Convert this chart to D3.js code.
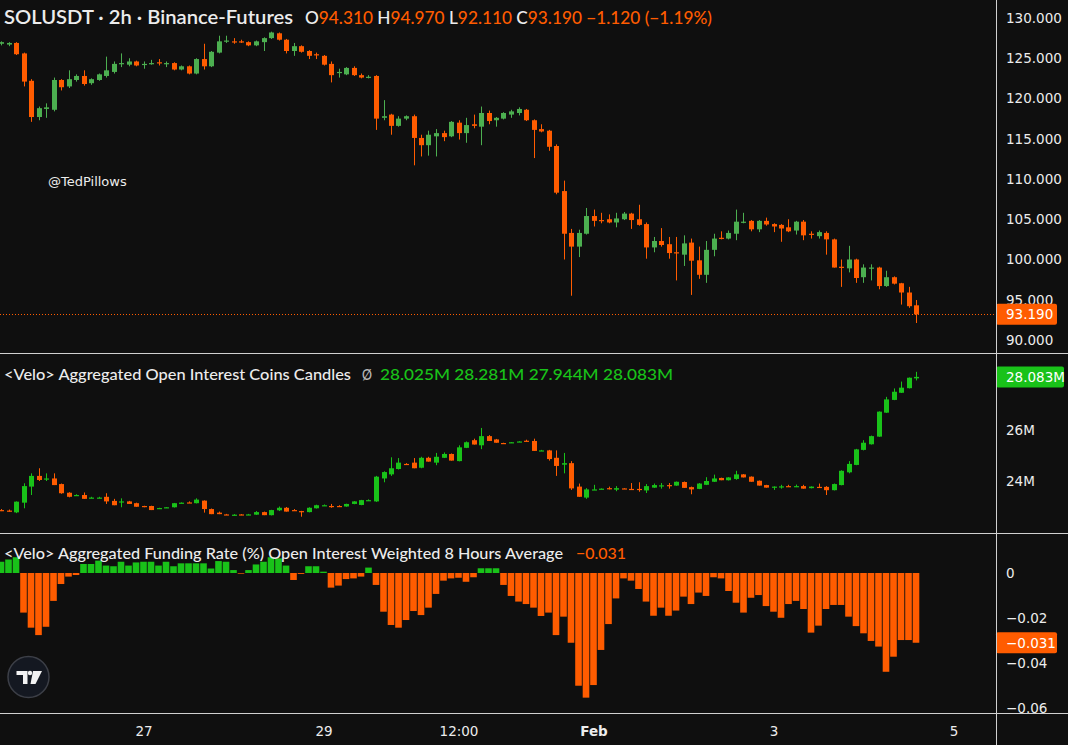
<!DOCTYPE html>
<html><head><meta charset="utf-8">
<script src="https://cdn.jsdelivr.net/npm/d3@7"></script>
<style>
html,body{margin:0;padding:0;background:#0f0f0f;}
svg{display:block;}
</style></head><body>
<svg id="c" width="1068" height="745"></svg>
<script>
// ---------------- DATA ----------------
const tickLabels = ["27","29","12:00","Feb","3","5"];
const tickIndex  = [19,43,61,79,103,127];   // candle index (2h bars) of each time label

const priceTicks = [90,95,100,105,110,115,120,125,130];
const oiTicks = [24,26];
const fundingTicks = [0,-0.02,-0.04,-0.06];

const priceOpen = [126.8,126.7,126.9,125.6,122.2,117.7,118.7,118.6,122.3,121.5,
122.3,122.8,121.9,122.3,122.8,123.3,124.3,124.2,124.6,124.2,
124.3,124.5,124.3,124.4,123.6,124.0,123.1,124.9,124.0,125.7,
127.1,127.1,127.1,127.0,126.6,127.0,127.5,128.1,127.3,125.9,
126.5,125.9,125.5,125.3,124.3,123.2,123.0,123.8,122.9,122.6,
122.8,117.6,118.0,116.6,117.5,117.8,115.1,114.2,115.3,115.7,
115.3,117.0,115.7,116.8,116.5,118.2,117.3,117.5,118.0,118.2,
118.6,117.3,116.2,116.0,114.1,108.5,103.3,101.6,103.2,105.4,
104.9,105.0,104.6,105.0,105.7,105.0,104.4,101.5,102.3,101.9,
100.9,100.6,102.1,99.9,98.1,101.2,102.7,102.6,103.2,104.6,
104.8,103.75,104.8,104.4,104.3,104.0,103.6,104.7,103.2,102.9,
103.3,102.5,99.1,98.9,100.0,97.8,98.95,99.0,96.7,97.8,
97.05,95.9,94.31];
const priceHigh = [127.1,127.0,127.0,125.7,122.4,119.0,119.4,122.6,122.4,123.5,
123.0,123.5,122.5,123.1,125.2,124.6,125.6,125.0,124.7,124.6,
124.8,124.9,124.6,124.5,124.1,124.1,125.0,126.8,125.9,127.8,
127.8,127.5,127.3,127.1,127.2,127.6,128.3,128.2,127.4,126.9,
126.6,126.0,125.7,125.4,124.6,123.7,123.9,124.0,123.1,122.9,
122.9,119.8,118.1,117.8,117.9,118.0,115.5,116.0,116.2,116.0,
117.2,117.3,117.6,118.0,119.0,118.5,117.7,118.3,118.6,118.9,
118.7,117.4,116.8,116.1,114.3,109.8,103.8,103.7,106.4,106.2,
105.8,105.6,105.8,105.9,105.8,106.8,104.6,102.8,103.9,102.8,
102.8,103.0,102.6,101.6,102.3,103.2,103.5,103.6,106.2,105.8,
104.9,104.9,105.2,104.5,104.4,105.0,104.8,104.9,103.5,103.6,
103.5,102.6,100.0,101.7,100.1,99.4,99.4,99.1,98.6,97.9,
97.1,96.6,94.97];
const priceLow = [126.6,126.5,125.4,121.5,117.1,117.3,117.6,118.4,121.0,121.3,
122.1,121.6,121.7,122.2,122.6,123.1,123.9,124.0,124.0,123.7,
124.2,124.1,123.9,123.5,123.5,123.0,123.0,123.6,123.9,125.6,
126.9,126.8,126.9,126.5,126.5,125.9,127.4,127.2,125.6,125.3,
125.7,124.9,124.9,124.1,122.0,122.6,122.9,122.8,122.5,122.5,
116.1,117.3,115.5,116.5,117.3,111.7,112.8,112.9,112.8,114.7,
115.2,114.9,114.5,116.3,114.2,116.8,116.5,117.4,117.6,117.9,
117.2,112.6,115.8,113.5,108.1,100.0,95.5,100.3,103.1,104.1,
104.5,104.5,104.0,104.9,103.8,104.2,100.1,100.9,101.6,100.1,
97.4,99.2,95.6,97.6,97.1,100.4,102.5,102.5,102.4,104.5,
103.5,103.4,104.2,103.4,102.2,103.4,103.1,102.4,102.6,102.6,
100.6,99.0,96.6,98.4,97.1,97.1,97.4,96.3,96.6,96.9,
94.4,94.0,92.11];
const priceClose = [127.0,126.9,125.5,122.1,117.7,118.8,118.9,122.3,121.4,122.4,
122.8,121.8,122.4,123.0,123.5,124.3,124.4,124.6,124.1,124.3,
124.4,124.4,124.4,123.6,124.0,123.1,124.9,124.0,125.8,127.1,
127.2,127.0,127.0,126.6,127.1,127.5,128.2,127.3,125.9,126.5,
125.8,125.3,125.4,124.2,122.9,123.3,123.8,122.9,122.6,122.7,
117.5,117.8,116.6,117.5,117.8,115.1,114.2,115.5,115.7,115.2,
117.1,115.7,116.7,116.6,118.2,117.2,117.6,118.2,118.4,118.7,
117.3,116.1,115.9,114.0,108.3,103.2,101.6,103.3,105.4,104.8,
104.85,104.6,105.1,105.7,104.9,104.3,101.5,102.3,101.8,100.8,
100.85,102.0,99.85,98.1,101.2,102.6,102.6,103.3,104.7,104.7,
103.75,104.8,104.35,104.1,103.85,103.5,104.7,103.0,103.1,103.4,
102.5,99.0,99.0,100.0,97.7,99.0,99.0,96.7,97.8,97.0,
95.9,94.2,93.19];

// Aggregated open interest (millions of coins)
const oiOpen = [22.86,22.84,22.77,23.15,23.78,24.2,24.08,24.1,23.88,23.54,
23.43,23.45,23.34,23.34,23.38,23.22,23.18,23.2,23.13,23.02,
23.02,22.92,22.96,22.97,23.14,23.16,23.13,23.23,22.9,22.76,
22.69,22.67,22.69,22.68,22.68,22.78,22.66,22.85,22.95,22.86,
22.82,22.78,22.93,23.04,23.02,23.02,23.0,23.1,23.06,23.24,
23.2,24.1,24.26,24.47,24.67,24.72,24.52,24.91,24.72,24.91,
25.06,24.78,25.3,25.6,25.4,25.76,25.63,25.49,25.51,25.54,
25.58,25.57,25.19,25.2,24.91,24.64,24.7,23.78,23.35,23.66,
23.69,23.72,23.66,23.71,23.69,23.69,23.63,23.74,23.81,23.84,
23.82,23.96,23.76,23.69,23.85,23.97,24.12,24.03,24.08,24.26,
24.17,24.01,23.84,23.77,23.77,23.8,23.78,23.8,23.72,23.77,
23.77,23.64,23.84,24.34,24.63,25.22,25.44,25.74,26.68,27.18,
27.46,27.64,28.025];
const oiHigh = [22.9,22.88,23.2,23.91,24.3,24.5,24.3,24.3,23.9,23.56,
23.48,23.55,23.38,23.38,23.52,23.3,23.32,23.22,23.15,23.03,
23.03,22.95,22.98,23.14,23.16,23.2,23.32,23.24,22.92,22.8,
22.71,22.7,22.7,22.71,22.82,22.8,22.87,23.0,22.98,22.9,
22.83,22.97,23.07,23.08,23.1,23.05,23.11,23.21,23.26,23.28,
24.2,24.38,24.93,24.9,24.7,24.9,24.95,24.95,25.1,25.12,
25.08,25.4,25.55,25.66,26.08,25.8,25.65,25.5,25.53,25.56,
25.62,25.66,25.22,25.22,25.2,25.1,24.78,23.9,23.72,23.85,
23.71,23.78,23.8,23.72,23.92,23.95,23.88,23.9,23.92,23.92,
23.98,23.98,23.78,23.92,24.15,24.25,24.13,24.15,24.4,24.27,
24.18,24.02,23.85,23.79,23.85,23.85,23.86,23.85,23.79,23.9,
23.8,23.9,24.42,24.78,25.26,25.6,25.78,26.73,27.3,27.63,
27.9,28.06,28.281];
const oiLow = [22.82,22.8,22.74,22.93,23.45,24.0,24.0,23.84,23.5,23.36,
23.42,23.3,23.33,23.33,23.1,23.05,22.97,23.1,22.99,22.97,
22.86,22.9,22.95,22.96,23.13,23.14,23.12,22.76,22.7,22.7,
22.67,22.65,22.66,22.67,22.67,22.66,22.65,22.82,22.8,22.84,
22.6,22.77,22.92,23.03,22.95,22.98,22.99,23.09,23.05,23.22,
23.18,23.95,24.2,24.45,24.63,24.5,24.5,24.76,24.62,24.9,
24.8,24.77,25.29,25.43,25.25,25.57,25.5,25.46,25.5,25.53,
25.55,25.18,25.18,24.8,24.2,24.3,23.65,23.38,23.3,23.65,
23.68,23.67,23.6,23.69,23.66,23.58,23.53,23.73,23.7,23.7,
23.81,23.73,23.48,23.68,23.84,23.96,24.03,24.02,24.05,24.14,
23.97,23.82,23.74,23.65,23.7,23.78,23.76,23.7,23.71,23.75,
23.45,23.63,23.83,24.3,24.62,25.2,25.43,25.73,26.67,27.17,
27.45,27.63,27.944];
const oiClose = [22.85,22.82,23.19,23.8,24.2,24.04,24.1,23.84,23.52,23.38,
23.45,23.3,23.35,23.35,23.2,23.05,23.2,23.1,22.99,23.0,
22.86,22.94,22.97,23.13,23.15,23.15,23.27,22.9,22.7,22.7,
22.68,22.68,22.68,22.69,22.78,22.66,22.86,22.95,22.8,22.85,
22.8,22.95,23.05,23.05,23.0,23.0,23.1,23.2,23.25,23.25,
24.17,24.35,24.5,24.72,24.65,24.5,24.91,24.76,24.95,25.06,
24.8,25.32,25.52,25.43,25.76,25.57,25.5,25.47,25.52,25.55,
25.57,25.18,25.2,24.86,24.59,24.7,23.71,23.38,23.67,23.67,
23.7,23.68,23.72,23.7,23.67,23.67,23.8,23.84,23.83,23.82,
23.97,23.73,23.67,23.9,24.0,24.1,24.03,24.14,24.26,24.14,
23.97,23.82,23.74,23.78,23.79,23.79,23.8,23.7,23.78,23.76,
23.64,23.88,24.4,24.67,25.24,25.5,25.76,26.72,27.2,27.5,
27.66,28.05,28.083];

// Aggregated funding rate (%), OI weighted 8h average
const fundingRate = [0.005,0.006,0.007,-0.0176,-0.0243,-0.0276,-0.0239,-0.0124,-0.0049,-0.0016,
-0.0009,0.004,0.004,0.0055,0.0033,0.003,0.005,0.0033,0.0047,0.005,
0.005,0.0033,0.005,0.003,0.0043,0.0043,0.0043,0.0043,0.002,0.0053,
0.005,0.0013,-0.0003,0.0013,0.0038,0.005,0.007,0.0065,0.0033,-0.0031,
-0.0004,0.003,0.003,0.0006,-0.0065,-0.0056,-0.0027,-0.0024,-0.0016,0.0024,
-0.0053,-0.0172,-0.0231,-0.0243,-0.0209,-0.0169,-0.0187,-0.0154,-0.0093,-0.0034,
-0.0024,-0.0021,-0.0039,-0.0019,0.0021,0.0021,0.0021,-0.0053,-0.0102,-0.0127,
-0.0138,-0.0154,-0.0191,-0.0176,-0.0276,-0.0194,-0.031,-0.0501,-0.0554,-0.0498,
-0.0342,-0.0227,-0.0113,-0.0024,-0.0034,-0.0071,-0.0127,-0.019,-0.0154,-0.019,
-0.0167,-0.0105,-0.0138,-0.0087,-0.0102,-0.0019,-0.0024,-0.008,-0.0132,-0.0176,
-0.011,-0.0098,-0.0147,-0.0172,-0.0199,-0.0138,-0.0124,-0.016,-0.0265,-0.0234,
-0.016,-0.0142,-0.0142,-0.0194,-0.0236,-0.0268,-0.0302,-0.0327,-0.0439,-0.0372,
-0.0298,-0.0298,-0.031];

// ---------------- STYLE ----------------
const BG = "#0f0f0f";
const TXT = "#ececec";
const P_UP = "#4caf50", DOWN = "#ff5c00";
const OI_UP = "#19c219";
const LINE = "#d0d0d0";
const AXIS_FONT = "'DejaVu Sans', Verdana, sans-serif";
const HEAD_FONT = "Lato, 'Noto Sans', sans-serif";

const W = 1068, H = 745, AX = 996;
const svg = d3.select("#c");
svg.append("rect").attr("width", W).attr("height", H).attr("fill", BG);

const x  = d3.scaleLinear().domain([0, 127]).range([1, 953.5]);
const yP = d3.scaleLinear().domain([90, 130]).range([340, 18]);
const yO = d3.scaleLinear().domain([24, 26]).range([481, 430]);
const yF = d3.scaleLinear().domain([-0.06, 0]).range([708, 573]);

const defs = svg.append("defs");
[["cp1",0,0,AX,353],["cp2",0,354,AX,179],["cp3",0,534,AX,179]].forEach(([id,x0,y0,w,h])=>{
  defs.append("clipPath").attr("id",id).append("rect").attr("x",x0).attr("y",y0).attr("width",w).attr("height",h);
});

function drawCandles(g, O, Hi, Lo, C, y, up, down){
  const idx = d3.range(O.length);
  const col = i => C[i] >= O[i] ? up : down;
  g.selectAll("line.wick").data(idx).join("line").attr("class","wick")
    .attr("x1", i => Math.round(x(i)) + 0.5).attr("x2", i => Math.round(x(i)) + 0.5)
    .attr("y1", i => y(Hi[i])).attr("y2", i => y(Lo[i]))
    .attr("stroke", col).attr("stroke-width", 1);
  g.selectAll("rect.body").data(idx).join("rect").attr("class","body")
    .attr("x", i => Math.round(x(i)) - 2).attr("width", 5)
    .attr("y", i => Math.min(y(O[i]), y(C[i])))
    .attr("height", i => Math.max(1.2, Math.abs(y(O[i]) - y(C[i]))))
    .attr("fill", col);
}

// price pane
const g1 = svg.append("g").attr("clip-path","url(#cp1)");
const lastP = priceClose.length - 1;
g1.append("line").attr("x1",0).attr("x2",AX).attr("y1",Math.round(yP(priceClose[lastP]))+0.5).attr("y2",Math.round(yP(priceClose[lastP]))+0.5)
  .attr("stroke",DOWN).attr("stroke-width",1).attr("stroke-dasharray","1,2");
drawCandles(g1, priceOpen, priceHigh, priceLow, priceClose, yP, P_UP, DOWN);

// OI pane
const g2 = svg.append("g").attr("clip-path","url(#cp2)");
drawCandles(g2, oiOpen, oiHigh, oiLow, oiClose, yO, OI_UP, DOWN);

// funding pane
const g3 = svg.append("g").attr("clip-path","url(#cp3)");
g3.selectAll("rect").data(fundingRate).join("rect")
  .attr("x", (d,i) => x(i) - 3.3).attr("width", 6.6)
  .attr("y", d => Math.min(yF(d), yF(0)))
  .attr("height", d => Math.abs(yF(d) - yF(0)))
  .attr("fill", d => d >= 0 ? OI_UP : DOWN);

// ---------------- AXES ----------------
function styleAxis(g){
  g.select(".domain").remove();
  g.selectAll("text").attr("fill", TXT).style("font-family", AXIS_FONT).style("font-size","13.5px");
}
svg.append("g").attr("transform",`translate(${AX},0)`)
  .call(d3.axisRight(yP).tickValues(priceTicks).tickSize(0).tickPadding(10).tickFormat(d3.format(".3f")))
  .call(styleAxis);
svg.append("g").attr("transform",`translate(${AX},0)`)
  .call(d3.axisRight(yO).tickValues(oiTicks).tickSize(0).tickPadding(10).tickFormat(d => d + "M"))
  .call(styleAxis);
svg.append("g").attr("transform",`translate(${AX},0)`)
  .call(d3.axisRight(yF).tickValues(fundingTicks).tickSize(0).tickPadding(10).tickFormat(d => d === 0 ? "0" : d3.format(".2f")(d)))
  .call(styleAxis);
const xa = svg.append("g").attr("transform","translate(0,713)")
  .call(d3.axisBottom(x).tickValues(tickIndex).tickSize(0).tickPadding(13).tickFormat((d,i) => tickLabels[i]))
  .call(styleAxis);
xa.selectAll("text").attr("font-weight", (d,i) => tickLabels[i] === "Feb" ? "bold" : null);

// last value boxes
function valueBox(yc, w, fill, label){
  const g = svg.append("g");
  g.append("rect").attr("x",AX).attr("y",yc-10.5).attr("width",w).attr("height",21).attr("rx",2).attr("fill",fill);
  g.append("text").attr("x",AX+10).attr("y",yc).attr("dy","0.36em").attr("fill","#ffffff")
    .style("font-family",AXIS_FONT).style("font-size","13.5px").text(label);
}
valueBox(yP(priceClose[lastP]), 61, DOWN, d3.format(".3f")(priceClose[lastP]));
valueBox(yO(oiClose[lastP]), 68, OI_UP, d3.format(".3f")(oiClose[lastP]) + "M");
valueBox(yF(fundingRate[lastP]), 61, DOWN, d3.format(".3f")(fundingRate[lastP]));

// ---------------- SEPARATORS ----------------
[353.5, 533.5, 713.5].forEach(yy => svg.append("line").attr("x1",0).attr("x2",W).attr("y1",yy).attr("y2",yy).attr("stroke",LINE).attr("stroke-width",1));
svg.append("line").attr("x1",AX+0.5).attr("x2",AX+0.5).attr("y1",0).attr("y2",H).attr("stroke",LINE).attr("stroke-width",1);

// ---------------- LEGENDS ----------------
function legend(xp, yp, len, size, weight, parts){
  const t = svg.append("text").attr("x",xp).attr("y",yp)
    .attr("textLength",len).attr("lengthAdjust","spacingAndGlyphs")
    .style("font-family",HEAD_FONT).style("font-size",size+"px").style("font-weight",weight);
  parts.forEach(([s,c]) => t.append("tspan").attr("fill",c).text(s));
  return t;
}
const f3 = d3.format(".3f");
const chg = priceClose[lastP] - priceOpen[lastP];
legend(4, 24, 289, 19, 600, [["SOLUSDT · 2h · Binance-Futures", TXT]]);
legend(305, 24, 407, 17, 500, [
  ["O",TXT],[f3(priceOpen[lastP]),DOWN],[" H",TXT],[f3(priceHigh[lastP]),DOWN],
  [" L",TXT],[f3(priceLow[lastP]),DOWN],[" C",TXT],[f3(priceClose[lastP]),DOWN],
  [" " + f3(chg) + " (" + d3.format(".2f")(chg / priceOpen[lastP] * 100) + "%)", DOWN]]);
legend(4, 380, 347, 15.5, 500, [["<Velo> Aggregated Open Interest Coins Candles", TXT]]);
legend(362, 380, 10, 15.5, 500, [["Ø", "#b8b8b8"]]);
legend(380, 380, 293, 15.5, 500, [[[oiOpen[lastP],oiHigh[lastP],oiLow[lastP],oiClose[lastP]].map(v => f3(v)+"M").join("  "), OI_UP]]);
legend(4, 559, 559, 15.5, 500, [["<Velo> Aggregated Funding Rate (%) Open Interest Weighted 8 Hours Average", TXT]]);
legend(576, 559, 50, 15.5, 500, [[f3(fundingRate[lastP]), DOWN]]);

svg.append("text").attr("x",48).attr("y",186).attr("fill",TXT)
  .style("font-family",AXIS_FONT).style("font-size","13px").text("@TedPillows");

// ---------------- TV LOGO ----------------
const logo = svg.append("g").attr("transform","translate(28.5,677)");
logo.append("circle").attr("r",20.5).attr("fill","#141821").attr("stroke","#3c3f47").attr("stroke-width",1.5);
logo.append("path").attr("fill","#f2f2f2")
  .attr("d","M-12,-6 H-1 V7 H-5.5 V-2 H-12 Z");
logo.append("circle").attr("cx",1.5).attr("cy",-4).attr("r",2.2).attr("fill","#f2f2f2");
logo.append("path").attr("fill","#f2f2f2")
  .attr("d","M4.5,-6 H13.5 L7,7 H2 Z");
</script>
</body></html>
